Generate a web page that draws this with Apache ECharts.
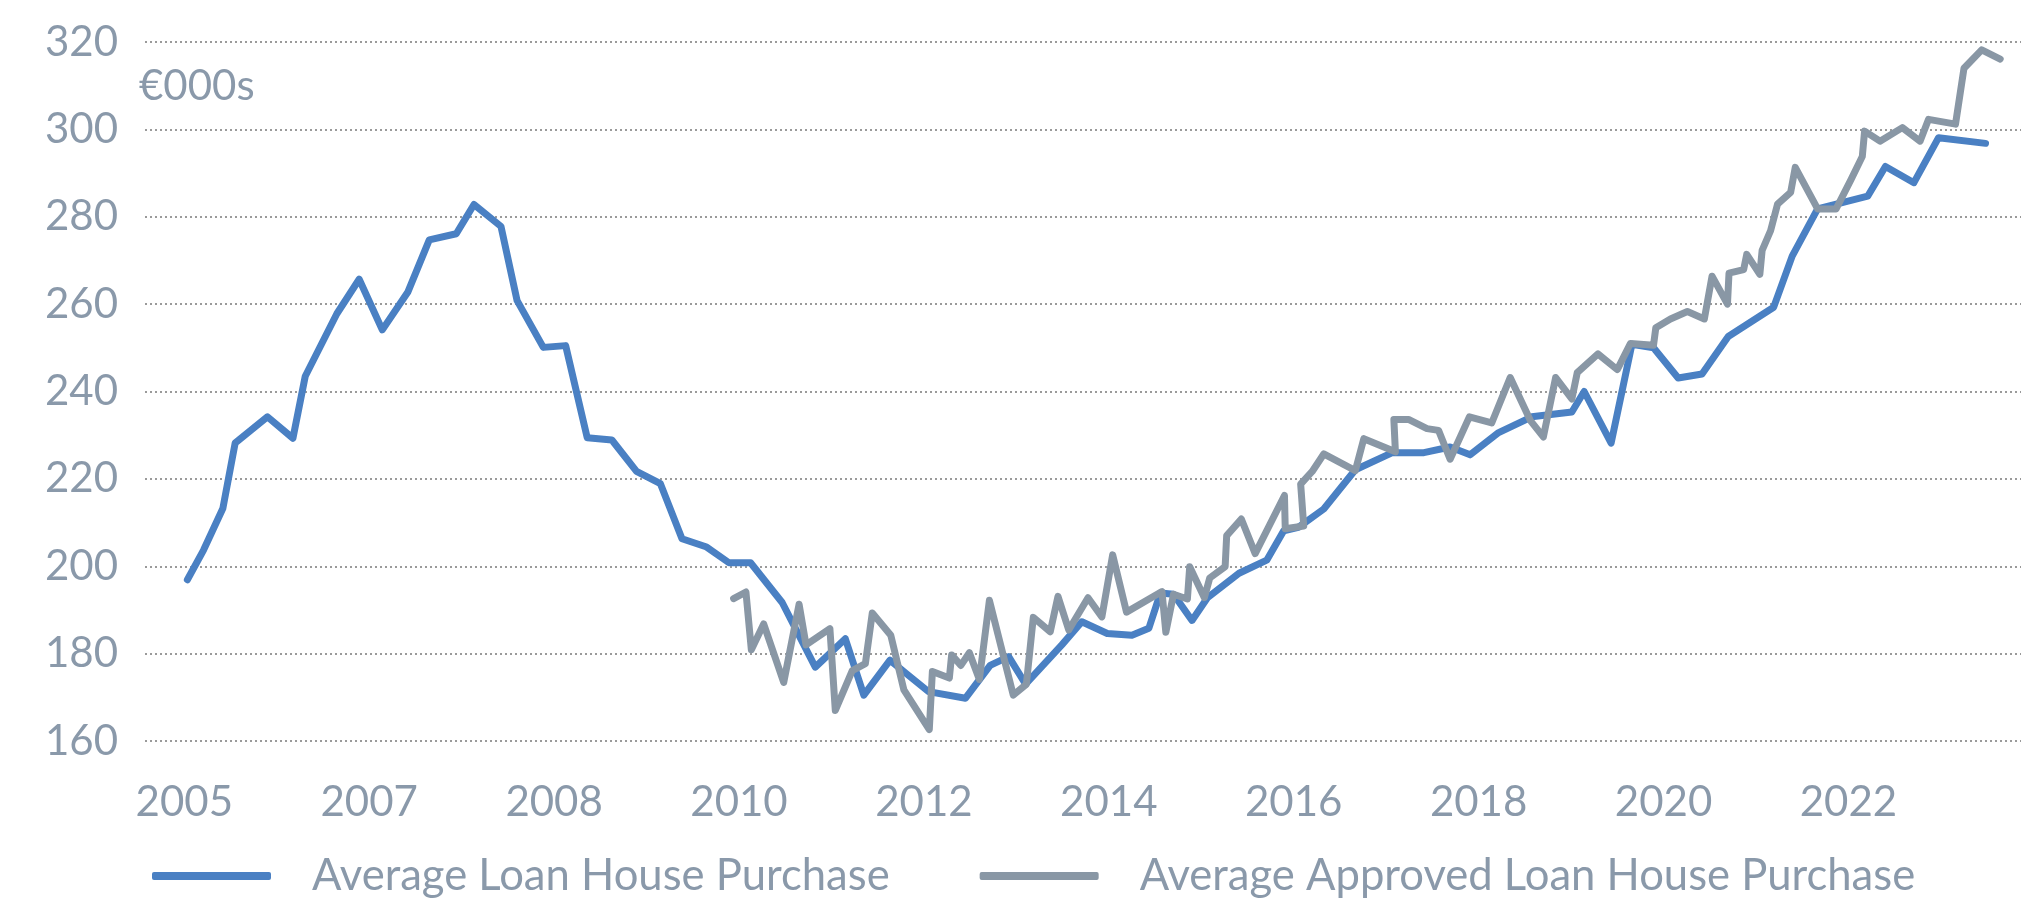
<!DOCTYPE html>
<html>
<head>
<meta charset="utf-8">
<script src="https://cdn.jsdelivr.net/npm/echarts@6/dist/echarts.min.js"></script>
<style>
	html, body { margin: 0; padding: 0; background: #fff; }
	#myChart { width: 2044px; height: 902px; }
</style>
</head>
<body>
<div id="myChart"></div>
<script>
// x is a month offset from the first tick ("2005")
const xTickMonths = [0, 24, 48, 72, 96, 120, 144, 168, 192, 216]
const xTickLabels = ['2005', '2007', '2008', '2010', '2012', '2014', '2016', '2018', '2020', '2022']
const yTicks = [160, 180, 200, 220, 240, 260, 280, 300, 320]

const seriesNames = ['Average Loan House Purchase', 'Average Approved Loan House Purchase']

const loanMonths = [0.4, 2.5, 5.0, 6.6, 10.8, 14.1, 15.7, 19.8, 22.7, 25.7, 29.0, 31.8, 35.3, 37.6, 41.1, 43.2,
	46.6, 49.5, 52.3, 55.5, 58.7, 61.8, 64.6, 67.8, 70.7, 73.5, 77.6, 81.9, 85.8, 88.2, 91.6, 93.8, 96.6,
	101.4, 104.6, 107.0, 109.2, 113.9, 116.5, 119.8, 123.0, 125.2, 126.7, 128.4, 130.8, 132.8, 136.9, 140.5,
	142.7, 144.6, 147.9, 152.0, 156.8, 160.9, 164.3, 166.9, 170.6, 174.9, 180.1, 181.7, 185.2, 187.9, 190.7,
	193.9, 197.0, 200.4, 206.3, 208.7, 212.0, 218.5, 220.8, 224.5, 227.7, 233.8]
const loanValues = [196.9, 203.7, 213.2, 228.2, 234.2, 229.3, 243.5, 257.8, 265.7, 254.1, 262.7, 274.7, 276.1, 282.8, 277.8, 260.8,
	250.1, 250.5, 229.4, 228.9, 221.7, 218.9, 206.3, 204.4, 200.8, 200.8, 191.7, 176.9, 183.4, 170.5, 178.5, 175.3, 171.3,
	169.8, 177.3, 179.3, 173.0, 182.0, 187.3, 184.6, 184.2, 185.8, 193.9, 193.6, 187.6, 192.8, 198.4, 201.4,
	208.1, 208.9, 213.1, 222.1, 226.0, 226.0, 227.3, 225.5, 230.6, 234.2, 235.3, 240.0, 228.2, 250.8, 250.0,
	243.1, 244.0, 252.6, 259.3, 271.0, 281.8, 284.7, 291.5, 287.8, 298.1, 296.8]

const approvedMonths = [71.3, 72.9, 73.6, 75.2, 77.8, 79.8, 80.7, 83.8, 84.5, 86.7, 88.4, 89.3, 91.7, 93.4, 96.7, 97.1,
	99.3, 99.6, 100.8, 101.9, 103.2, 104.5, 107.6, 109.3, 110.2, 112.4, 113.4, 114.8, 117.3, 119.1, 120.5, 122.3,
	126.9, 127.4, 128.4, 130.2, 130.5, 132.4, 133.1, 135.1, 135.3, 137.2, 139.0, 142.8, 142.9, 145.3, 144.9, 146.4,
	147.9, 152.0, 153.1, 157.2, 157.0, 158.9, 161.3, 162.8, 164.3, 166.8, 169.7, 172.1, 174.7, 176.4, 178.0, 180.1,
	180.8, 183.5, 186.0, 187.7, 190.7, 191.0, 192.9, 195.1, 197.3, 198.3, 200.3, 200.5, 202.4, 202.8, 204.5, 204.8,
	205.9, 206.8, 208.5, 209.1, 212.0, 214.4, 216.3, 217.8, 218.1, 220.1, 223.0, 225.3, 226.4, 229.9, 231.0, 233.3, 235.7]
const approvedValues = [192.6, 194.1, 180.9, 186.8, 173.4, 191.3, 182.0, 185.7, 167.0, 176.1, 177.7, 189.3, 184.2, 171.7, 162.6, 175.9,
	174.4, 179.7, 177.3, 180.2, 174.1, 192.2, 170.5, 173.0, 188.3, 185.0, 193.1, 185.4, 192.8, 188.4, 202.6, 189.5,
	194.2, 184.9, 193.6, 192.5, 199.9, 192.8, 197.3, 199.9, 207.0, 210.8, 202.9, 216.2, 208.6, 209.2, 218.8, 221.7,
	225.7, 221.9, 229.2, 226.2, 233.6, 233.6, 231.5, 231.1, 224.5, 234.2, 232.8, 243.2, 233.4, 229.6, 243.2, 238.3,
	244.3, 248.6, 245.0, 251.0, 250.6, 254.6, 256.6, 258.3, 256.6, 266.4, 260.0, 267.1, 267.9, 271.4, 266.8, 272.3,
	276.8, 282.9, 285.6, 291.3, 281.8, 281.8, 288.4, 293.8, 299.6, 297.3, 300.4, 297.3, 302.3, 301.2, 314.0, 318.2, 316.1]

const textColor = '#8a99aa'
const fontFamily = 'Lato'

function pairs(xs, ys) {
	return xs.map((x, i) => [x, ys[i]])
}

const myChart = echarts.init(document.getElementById('myChart'))
const option = {
	animation: false,
	backgroundColor: '#ffffff',
	title: {
		text: '€000s',
		left: 134,
		top: 60,
		textStyle: { color: textColor, fontSize: 42, fontWeight: 'normal', fontFamily: fontFamily }
	},
	legend: {
		left: 147,
		top: 849,
		itemWidth: 119,
		itemHeight: 8,
		itemGap: 90,
		icon: 'roundRect',
		data: seriesNames,
		textStyle: {
			color: textColor,
			fontSize: 43.6,
			fontFamily: fontFamily,
			padding: [0, 0, 0, 36]
		}
	},
	grid: {
		left: 145,
		right: 23,
		top: 42,
		bottom: 161
	},
	xAxis: {
		type: 'value',
		min: -5.1,
		max: 238.4,
		splitLine: { show: false },
		axisLine: { show: false },
		axisTick: { show: false },
		axisLabel: {
			customValues: xTickMonths,
			margin: 40,
			color: textColor,
			fontSize: 42,
			fontFamily: fontFamily,
			formatter: function (value) {
				return xTickLabels[xTickMonths.indexOf(value)] || ''
			}
		}
	},
	yAxis: {
		type: 'value',
		min: yTicks[0],
		max: yTicks[yTicks.length - 1],
		interval: 20,
		axisLine: { show: false },
		axisTick: { show: false },
		axisLabel: {
			margin: 27,
			color: textColor,
			fontSize: 42,
			fontFamily: fontFamily
		},
		splitLine: {
			lineStyle: {
				color: '#9a9a9a',
				width: 2,
				type: [2, 3]
			}
		}
	},
	series: [{
		name: seriesNames[0],
		type: 'line',
		data: pairs(loanMonths, loanValues),
		showSymbol: false,
		color: '#4a80c3',
		lineStyle: { width: 7, color: '#4a80c3', cap: 'round', join: 'round' }
	}, {
		name: seriesNames[1],
		type: 'line',
		data: pairs(approvedMonths, approvedValues),
		showSymbol: false,
		color: '#8997a5',
		lineStyle: { width: 7, color: '#8997a5', cap: 'round', join: 'round' }
	}]
}
myChart.setOption(option)
</script>
</body>
</html>
